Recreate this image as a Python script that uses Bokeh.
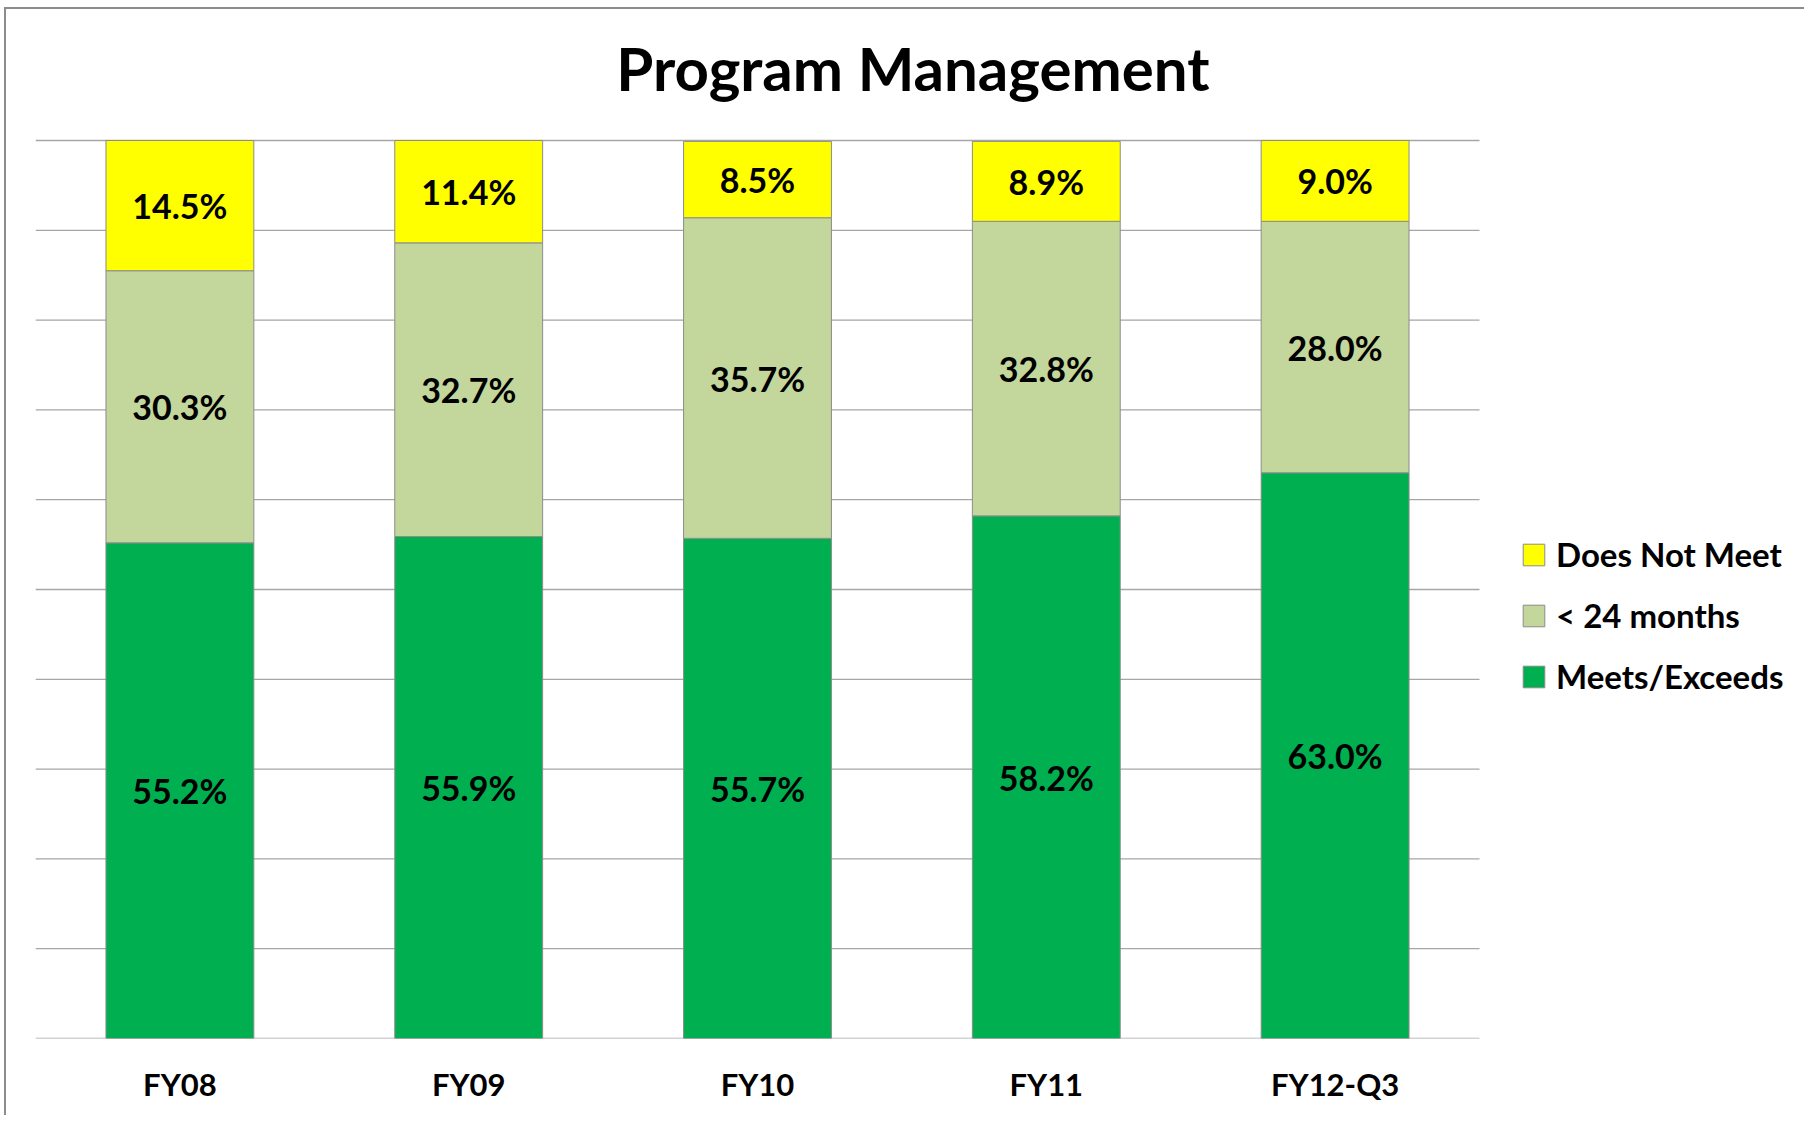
import numpy as np
from bokeh.plotting import figure
from bokeh.models import Range1d, Legend, LegendItem, FixedTicker, ColumnDataSource, Label
from bokeh.embed import file_html
from bokeh.resources import INLINE
from bokeh.core.properties import value

# ---- data ----
categories = ["FY08", "FY09", "FY10", "FY11", "FY12-Q3"]
meets_exceeds = [55.2, 55.9, 55.7, 58.2, 63.0]
under_24_months = [30.3, 32.7, 35.7, 32.8, 28.0]
does_not_meet = [14.5, 11.4, 8.5, 8.9, 9.0]
series_names = ["Meets/Exceeds", "< 24 months", "Does Not Meet"]
series_colors = ["#00B050", "#C3D69B", "#FFFF00"]
grid_values = [0, 10, 20, 30, 40, 50, 60, 70, 80, 90, 100]
title_text = "Program Management"

FONT = "Lato"
GRID = "#A6A6A6"
EDGE = "#8C8C8C"

# ---- layout constants (canvas pixels) ----
W, H = 1800, 1108
LEFT = 29            # frame left
BOTTOM_Y = 1029      # canvas y of value 0
TOP_Y = 131          # canvas y of value 100
CAT_W = 288.8        # pixels per category
TITLE_Y = 58         # canvas y of title anchor
ppu = (BOTTOM_Y - TOP_Y) / 100.0
x_end = -0.5 + (W - LEFT) / CAT_W
y_end = 100 + TOP_Y / ppu

series_values = [meets_exceeds, under_24_months, does_not_meet]
keys = ["s0", "s1", "s2"]
xs = list(range(len(categories)))
src = ColumnDataSource(dict(x=xs, **{k: v for k, v in zip(keys, series_values)}))

p = figure(
    x_range=Range1d(-0.5, x_end), y_range=Range1d(0, y_end),
    width=W, height=H,
    output_backend="svg", toolbar_location=None,
    min_border_left=LEFT, min_border_right=0,
    min_border_top=0, min_border_bottom=H - BOTTOM_Y,
)

# horizontal gridlines across the category area only
p.segment(x0=-0.5, x1=len(categories) - 0.5, y0=grid_values, y1=grid_values,
          line_color=GRID, line_width=1.3)

renderers = p.vbar_stack(keys, x="x", width=0.512, source=src,
                         fill_color=series_colors, line_color=EDGE, line_width=1)

# data labels at segment centres
vals = np.array(series_values)
cum = np.cumsum(vals, axis=0)
mids = cum - vals / 2
for i in range(len(series_values)):
    p.text(x=xs, y=list(mids[i]),
           text=[f"{v:.1f}%" for v in series_values[i]],
           text_font=value(FONT), text_font_style="bold", text_font_size="34px",
           text_align="center", text_baseline="middle", text_color="#000000")

# title
title_cx = (912.4 - 6 - LEFT) / CAT_W - 0.5
title_by = 100 + (TOP_Y - TITLE_Y) / ppu
p.add_layout(Label(x=title_cx, y=title_by, text=title_text,
                   text_font=FONT, text_font_size="60px", text_font_style="bold",
                   text_color="#000000", text_align="center", text_baseline="alphabetic"))

# axes / grid
p.yaxis.visible = False
p.xgrid.visible = False
p.ygrid.visible = False
p.xaxis.ticker = FixedTicker(ticks=xs)
p.xaxis.major_label_overrides = {i: c for i, c in zip(xs, categories)}
p.xaxis.axis_line_color = None
p.xaxis.major_tick_line_color = None
p.xaxis.minor_tick_line_color = None
p.xaxis.major_label_text_font = FONT
p.xaxis.major_label_text_font_size = "31px"
p.xaxis.major_label_text_font_style = "bold"
p.xaxis.major_label_text_color = "#000000"
p.xaxis.major_label_standoff = 20
p.outline_line_color = None

legend = Legend(
    items=[LegendItem(label=series_names[i], renderers=[renderers[i]]) for i in (2, 1, 0)],
    location=(1485, 342), orientation="vertical",
    label_text_font=FONT, label_text_font_size="33px", label_text_font_style="bold",
    label_text_color="#000000",
    glyph_width=27, glyph_height=27, spacing=21, label_height=40,
    label_standoff=9, padding=0, margin=0,
    border_line_color=None, background_fill_alpha=0,
)
p.add_layout(legend)

p.styles = {"margin-left": "4px", "margin-top": "7px",
            "border-left": "2px solid #8C8C8C", "border-top": "2px solid #8C8C8C"}

open("out.html", "w").write(file_html(p, INLINE))
